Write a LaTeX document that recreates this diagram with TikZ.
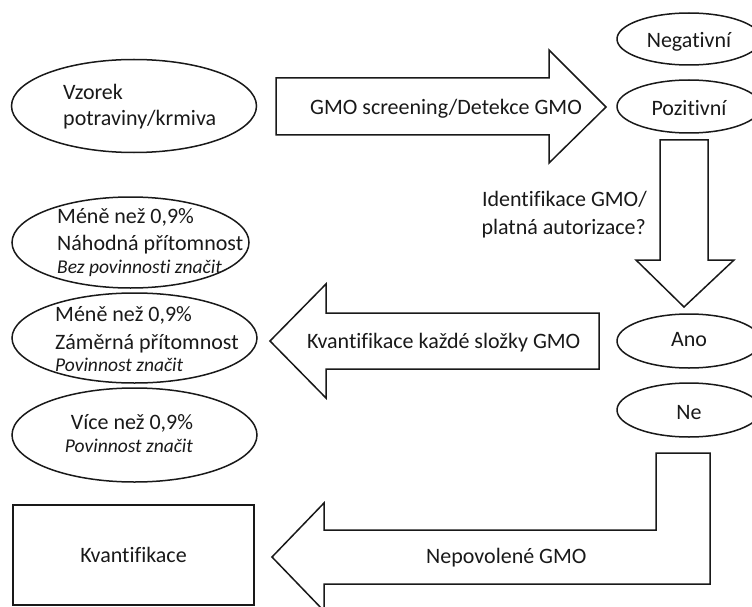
\documentclass[tikz,border=0pt]{standalone}
\usepackage{fontspec}
\setmainfont{Carlito}[RawFeature={-liga;-clig;-dlig}]
\usetikzlibrary{shapes.geometric}
\begin{document}
\begin{tikzpicture}[x=1pt,y=-1pt,
  ell/.style={draw=black!90, ellipse, line width=1.5pt, inner sep=0pt},
  txt/.style={font=\fontsize{22}{26}\selectfont, inner sep=0pt, text=black!90},
  itx/.style={font=\fontsize{19.5}{23}\selectfont\itshape, inner sep=0pt, text=black!90},
  blk/.style={draw=black!90, line width=1.5pt, line join=miter}]
\useasboundingbox (0,0) rectangle (752,607);
\clip (0,0) rectangle (752,607);

% left ellipses
\node[ell, minimum width=245pt, minimum height=93pt] (vz) at (134,106) {};
\node[txt, anchor=base west] (vz1) at (63,100) {Vzorek};
\node[txt, anchor=base west] (vz2) at (63,126) {potraviny/krmiva};

\node[ell, minimum width=237pt, minimum height=91pt] (e1) at (130.5,242.5) {};
\node[txt, anchor=base west] (e1a) at (57,223) {Méně než 0,9\%};
\node[txt, anchor=base west] (e1b) at (57,250) {Náhodná přítomnost};
\node[itx, anchor=base west] (e1c) at (57,273) {Bez povinnosti značit};

\node[ell, minimum width=245pt, minimum height=90pt] (e2) at (134.5,338) {};
\node[txt, anchor=base west] (e2a) at (55,321) {Méně než 0,9\%};
\node[txt, anchor=base west] (e2b) at (55,349) {Záměrná přítomnost};
\node[itx, anchor=base west] (e2c) at (55,371) {Povinnost značit};

\node[ell, minimum width=245pt, minimum height=94pt] (e3) at (134.5,435) {};
\node[txt, anchor=base] (e3a) at (132,429) {Více než 0,9\%};
\node[itx, anchor=base] (e3b) at (129,452) {Povinnost značit};

% Kvantifikace box
\node[blk, txt, minimum width=241pt, minimum height=100pt] (kv) at (133.5,555) {Kvantifikace};

% right ellipses
\node[ell, minimum width=144pt, minimum height=52pt] (neg) at (689,39) {};
\node[txt, anchor=base] (negt) at (689,48) {Negativní};
\node[ell, minimum width=144pt, minimum height=53pt] (poz) at (689,106.5) {};
\node[txt, anchor=base] (pozt) at (689,116) {Pozitivní};
\node[ell, minimum width=144pt, minimum height=54pt] (ano) at (689,341) {};
\node[txt, anchor=base] (anot) at (689,346) {Ano};
\node[ell, minimum width=144pt, minimum height=54pt] (ne) at (689,410) {};
\node[txt, anchor=base] (net) at (689,419) {Ne};

% block arrows
\draw[blk] (276,78) -- (549,78) -- (549,50) -- (606,107) -- (549,163) -- (549,135) -- (276,135) -- cycle;
\node[txt, anchor=base west] (a1t) at (310,115) {GMO screening/Detekce GMO};

\draw[blk] (660,140) -- (708,140) -- (708,260) -- (734,260) -- (684,307) -- (636,260) -- (660,260) -- cycle;
\node[txt, anchor=base east] (a2t1) at (647,206) {Identifikace GMO/};
\node[txt, anchor=base east] (a2t2) at (646,234) {platná autorizace?};

\draw[blk] (599,313) -- (599,369) -- (326,369) -- (326,398) -- (270,341) -- (326,284) -- (326,313) -- cycle;
\node[txt, anchor=base west] (a3t) at (307,348) {Kvantifikace každé složky GMO};

\draw[blk] (656,453) -- (710,453) -- (710,584) -- (324,584) -- (324,611) -- (272,557) -- (324,503) -- (324,530) -- (656,530) -- cycle;
\node[txt, anchor=base west] (a4t) at (426,563) {Nepovolené GMO};
\end{tikzpicture}
\end{document}
